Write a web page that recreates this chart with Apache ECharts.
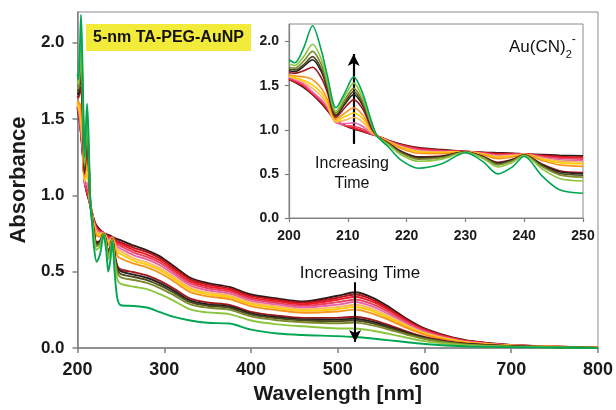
<!DOCTYPE html>
<html><head><meta charset="utf-8">
<script src="https://cdn.jsdelivr.net/npm/echarts@6/dist/echarts.min.js"></script>
<style>html,body{margin:0;padding:0;background:#fff}#c{width:616px;height:410px}</style>
</head><body><div id="c"></div>
<script>
// Wavelengths (nm): UV region (also the inset), and visible region (main only)
const wlUV  = [200, 201, 202.5, 204, 205.5, 206.5, 208, 209.5, 211, 212.5, 214, 215, 217, 219, 222, 226, 230, 233, 235.5, 238, 240, 243, 246, 250];
const wlVis = [265, 280, 295, 310, 330, 350, 375, 400, 430, 460, 500, 520, 540, 560, 580, 600, 625, 650, 700, 800];

// Absorbance per spectrum (s0 = earliest ... s13 = latest)
const uv0  = [1.57, 1.54, 1.48, 1.40, 1.30, 1.22, 1.10, 1.05, 1.01, 0.98, 0.95, 0.93, 0.88, 0.84, 0.80, 0.775, 0.755, 0.745, 0.74, 0.735, 0.727, 0.72, 0.712, 0.705];
const uv1  = [1.572, 1.545, 1.49, 1.405, 1.31, 1.23, 1.10, 1.05, 1.015, 0.985, 0.95, 0.93, 0.877, 0.834, 0.792, 0.769, 0.754, 0.741, 0.732, 0.730, 0.726, 0.712, 0.698, 0.69];
const uv2  = [1.578, 1.55, 1.50, 1.41, 1.32, 1.24, 1.10, 1.05, 1.02, 0.99, 0.95, 0.93, 0.875, 0.829, 0.786, 0.765, 0.754, 0.739, 0.726, 0.726, 0.725, 0.706, 0.688, 0.68];
const uv3  = [1.585, 1.56, 1.51, 1.42, 1.33, 1.25, 1.09, 1.05, 1.04, 1.01, 0.955, 0.93, 0.873, 0.824, 0.779, 0.761, 0.754, 0.736, 0.718, 0.721, 0.725, 0.698, 0.677, 0.667];
const uv4  = [1.595, 1.57, 1.52, 1.43, 1.34, 1.26, 1.08, 1.07, 1.08, 1.04, 0.96, 0.93, 0.870, 0.817, 0.769, 0.754, 0.753, 0.731, 0.709, 0.715, 0.723, 0.689, 0.661, 0.65];
const uv5  = [1.605, 1.58, 1.54, 1.47, 1.38, 1.28, 1.09, 1.11, 1.14, 1.09, 0.97, 0.93, 0.866, 0.809, 0.760, 0.748, 0.752, 0.727, 0.699, 0.709, 0.722, 0.679, 0.645, 0.633];
const uv6  = [1.61, 1.59, 1.56, 1.51, 1.42, 1.31, 1.10, 1.15, 1.19, 1.13, 0.99, 0.93, 0.863, 0.801, 0.749, 0.741, 0.752, 0.722, 0.688, 0.702, 0.721, 0.668, 0.628, 0.614];
const uv7  = [1.625, 1.61, 1.60, 1.57, 1.47, 1.35, 1.12, 1.19, 1.25, 1.17, 1.00, 0.93, 0.858, 0.790, 0.734, 0.730, 0.751, 0.716, 0.673, 0.692, 0.719, 0.653, 0.602, 0.586];
const uv8  = [1.65, 1.64, 1.67, 1.71, 1.59, 1.43, 1.14, 1.25, 1.34, 1.24, 1.02, 0.93, 0.844, 0.759, 0.694, 0.703, 0.748, 0.698, 0.632, 0.665, 0.715, 0.612, 0.536, 0.514];
const uv9  = [1.67, 1.66, 1.72, 1.795, 1.66, 1.47, 1.16, 1.29, 1.40, 1.28, 1.04, 0.93, 0.842, 0.754, 0.687, 0.698, 0.748, 0.695, 0.625, 0.661, 0.714, 0.605, 0.524, 0.501];
const uv10 = [1.69, 1.68, 1.74, 1.83, 1.69, 1.49, 1.17, 1.31, 1.435, 1.30, 1.05, 0.93, 0.838, 0.746, 0.678, 0.692, 0.747, 0.690, 0.615, 0.654, 0.713, 0.595, 0.508, 0.484];
const uv11 = [1.71, 1.70, 1.78, 1.89, 1.74, 1.52, 1.19, 1.34, 1.47, 1.33, 1.06, 0.93, 0.834, 0.737, 0.666, 0.684, 0.746, 0.685, 0.603, 0.647, 0.712, 0.583, 0.489, 0.463];
const uv12 = [1.75, 1.73, 1.83, 1.97, 1.80, 1.56, 1.21, 1.38, 1.53, 1.37, 1.08, 0.93, 0.826, 0.719, 0.643, 0.668, 0.745, 0.675, 0.579, 0.631, 0.709, 0.559, 0.449, 0.42];
const uv13 = [1.795, 1.76, 1.93, 2.18, 1.90, 1.62, 1.25, 1.42, 1.60, 1.42, 1.10, 0.93, 0.80, 0.66, 0.565, 0.615, 0.74, 0.64, 0.50, 0.58, 0.70, 0.48, 0.32, 0.28];

const vis0  = [0.67, 0.64, 0.60, 0.54, 0.46, 0.425, 0.40, 0.35, 0.325, 0.305, 0.342, 0.365, 0.33, 0.265, 0.19, 0.128, 0.08, 0.048, 0.02, 0.003];
const vis1  = [0.656, 0.627, 0.587, 0.528, 0.449, 0.415, 0.39, 0.341, 0.316, 0.296, 0.329, 0.35, 0.317, 0.254, 0.182, 0.123, 0.077, 0.046, 0.019, 0.003];
const vis2  = [0.64, 0.612, 0.573, 0.515, 0.436, 0.403, 0.38, 0.33, 0.305, 0.286, 0.316, 0.336, 0.303, 0.244, 0.175, 0.118, 0.074, 0.044, 0.019, 0.003];
const vis3  = [0.625, 0.597, 0.558, 0.501, 0.424, 0.391, 0.369, 0.32, 0.295, 0.276, 0.30, 0.318, 0.287, 0.231, 0.166, 0.112, 0.07, 0.042, 0.018, 0.003];
const vis4  = [0.607, 0.58, 0.542, 0.486, 0.41, 0.378, 0.357, 0.309, 0.284, 0.265, 0.284, 0.301, 0.271, 0.218, 0.157, 0.106, 0.066, 0.04, 0.017, 0.002];
const vis5  = [0.587, 0.561, 0.523, 0.47, 0.394, 0.364, 0.344, 0.296, 0.271, 0.253, 0.268, 0.283, 0.255, 0.205, 0.147, 0.099, 0.062, 0.037, 0.016, 0.002];
const vis6  = [0.571, 0.546, 0.509, 0.456, 0.382, 0.352, 0.333, 0.286, 0.261, 0.243, 0.255, 0.268, 0.242, 0.194, 0.14, 0.094, 0.059, 0.035, 0.015, 0.002];
const vis7  = [0.552, 0.528, 0.491, 0.44, 0.366, 0.338, 0.32, 0.273, 0.248, 0.231, 0.239, 0.251, 0.225, 0.181, 0.131, 0.088, 0.055, 0.033, 0.015, 0.002];
const vis8  = [0.496, 0.475, 0.439, 0.393, 0.323, 0.298, 0.282, 0.237, 0.212, 0.197, 0.198, 0.205, 0.184, 0.148, 0.107, 0.072, 0.045, 0.027, 0.012, 0.001];
const vis9  = [0.48, 0.46, 0.425, 0.379, 0.31, 0.286, 0.272, 0.227, 0.202, 0.187, 0.186, 0.192, 0.172, 0.138, 0.10, 0.068, 0.042, 0.026, 0.012, 0.001];
const vis10 = [0.465, 0.445, 0.41, 0.366, 0.30, 0.277, 0.263, 0.219, 0.194, 0.18, 0.176, 0.18, 0.161, 0.13, 0.094, 0.064, 0.04, 0.024, 0.011, 0.001];
const vis11 = [0.445, 0.426, 0.392, 0.349, 0.286, 0.264, 0.251, 0.207, 0.182, 0.169, 0.162, 0.166, 0.148, 0.119, 0.087, 0.059, 0.036, 0.022, 0.01, 0.001];
const vis12 = [0.401, 0.385, 0.352, 0.312, 0.253, 0.233, 0.222, 0.18, 0.155, 0.142, 0.128, 0.128, 0.113, 0.091, 0.067, 0.045, 0.028, 0.017, 0.009, 0.001];
const vis13 = [0.275, 0.265, 0.235, 0.205, 0.18, 0.165, 0.16, 0.12, 0.095, 0.085, 0.078, 0.072, 0.062, 0.05, 0.038, 0.026, 0.016, 0.01, 0.006, 0.0];

const colors = ['#2a1a18', '#b5121b', '#ee1c25', '#e8415f', '#e665a8', '#fdb863', '#ffcc00', '#f7941d',
                '#a1191c', '#231f20', '#4c4a1e', '#7d8b2f', '#8cc63f', '#00a651'];

const mainYTicks  = [0, 0.5, 1.0, 1.5, 2.0];
const insetYTicks = [0, 0.5, 1.0, 1.5, 2.0];

// arrows: [wavelength, from, to]
const mainArrow  = [520, 0.43, 0.04];
const insetArrow = [211, 0.84, 1.86];

const uvAll  = [uv0, uv1, uv2, uv3, uv4, uv5, uv6, uv7, uv8, uv9, uv10, uv11, uv12, uv13];
const visAll = [vis0, vis1, vis2, vis3, vis4, vis5, vis6, vis7, vis8, vis9, vis10, vis11, vis12, vis13];

const FONT = 'Liberation Sans, Arial, Helvetica, sans-serif';
const wlMain = wlUV.concat(wlVis);

const series = [];
uvAll.forEach((uv, i) => {
  const all = uv.concat(visAll[i]);
  series.push({
    type: 'line', xAxisIndex: 0, yAxisIndex: 0, showSymbol: false, smooth: 0.3,
    lineStyle: { width: 1.9, color: colors[i] }, z: 2,
    data: wlMain.map((w, k) => [w, all[k]])
  });
});
uvAll.forEach((uv, i) => {
  series.push({
    type: 'line', xAxisIndex: 1, yAxisIndex: 1, showSymbol: false, smooth: 0.3,
    lineStyle: { width: 1.6, color: colors[i] }, z: 5,
    data: wlUV.map((w, k) => [w, uv[k]])
  });
});
// arrows
series.push({
  type: 'line', xAxisIndex: 0, yAxisIndex: 0, data: [], z: 6,
  markLine: { silent: true, symbol: ['none', 'arrow'], symbolSize: [9, 12], label: { show: false },
    lineStyle: { color: '#000', width: 2, type: 'solid' },
    data: [[{ coord: [mainArrow[0], mainArrow[1]] }, { coord: [mainArrow[0], mainArrow[2]] }]] }
});
series.push({
  type: 'line', xAxisIndex: 1, yAxisIndex: 1, data: [], z: 7,
  markLine: { silent: true, symbol: ['none', 'arrow'], symbolSize: [9, 12], label: { show: false },
    lineStyle: { color: '#000', width: 2.2, type: 'solid' },
    data: [[{ coord: [insetArrow[0], insetArrow[1]] }, { coord: [insetArrow[0], insetArrow[2]] }]] }
});

const axisCol = '#7f7f7f';
const chart = echarts.init(document.getElementById('c'), null, { renderer: 'canvas' });
chart.setOption({
  animation: false,
  backgroundColor: '#fff',
  grid: [
    { left: 74, top: 12, right: 16, bottom: 62, show: true, borderColor: '#8a8a8a', borderWidth: 1, z: 0 },
    { left: 289, top: 24, right: 33, bottom: 192, show: true, borderColor: '#8a8a8a', borderWidth: 1, backgroundColor: '#fff', z: 4 }
  ],
  xAxis: [
    { type: 'value', gridIndex: 0, min: 200, max: 800, interval: 100,
      axisLine: { lineStyle: { color: axisCol, width: 1.5 } },
      axisTick: { show: true, length: 5, lineStyle: { color: axisCol, width: 1.5 } },
      axisLabel: { fontSize: 18, fontWeight: 'bold', color: '#1a1a1a', margin: 13, fontFamily: FONT },
      splitLine: { show: false },
      name: 'Wavelength [nm]', nameLocation: 'middle', nameGap: 31,
      nameTextStyle: { fontSize: 21, fontWeight: 'bold', color: '#1a1a1a', fontFamily: FONT } },
    { type: 'value', gridIndex: 1, min: 200, max: 250, interval: 10, z: 5,
      axisLine: { lineStyle: { color: axisCol, width: 1.2 } },
      axisTick: { show: true, length: 4, lineStyle: { color: axisCol, width: 1.2 } },
      axisLabel: { fontSize: 14, fontWeight: 'bold', color: '#1a1a1a', margin: 11, fontFamily: FONT },
      splitLine: { show: false } }
  ],
  yAxis: [
    { type: 'value', gridIndex: 0, min: 0, max: 2.2, interval: 0.5,
      axisLine: { show: true, lineStyle: { color: axisCol, width: 1.5 } },
      axisTick: { show: true, length: 5, customValues: mainYTicks, lineStyle: { color: axisCol, width: 1.5 } },
      axisLabel: { fontSize: 17, fontWeight: 'bold', color: '#1a1a1a', margin: 13, fontFamily: FONT,
        customValues: mainYTicks, formatter: v => v.toFixed(1) },
      splitLine: { show: false },
      name: 'Absorbance', nameLocation: 'middle', nameGap: 42,
      nameTextStyle: { fontSize: 22, fontWeight: 'bold', color: '#1a1a1a', fontFamily: FONT } },
    { type: 'value', gridIndex: 1, min: 0, max: 2.2, interval: 0.5, z: 5,
      axisLine: { show: true, lineStyle: { color: axisCol, width: 1.2 } },
      axisTick: { show: true, length: 4, customValues: insetYTicks, lineStyle: { color: axisCol, width: 1.2 } },
      axisLabel: { fontSize: 14, fontWeight: 'bold', color: '#1a1a1a', margin: 10, fontFamily: FONT,
        customValues: insetYTicks, formatter: v => v.toFixed(1) },
      splitLine: { show: false } }
  ],
  graphic: [
    { type: 'rect', left: 86, top: 24, shape: { width: 165, height: 27 }, style: { fill: '#f3eb3a' }, z: 10 },
    { type: 'text', x: 168.5, y: 37.5, z: 11,
      style: { text: '5-nm TA-PEG-AuNP', fill: '#111', font: 'bold 16px ' + FONT, textAlign: 'center', textVerticalAlign: 'middle' } },
    { type: 'text', x: 509, y: 47, z: 11,
      style: { text: '{a|Au(CN)}{s|2}{p|-}', textVerticalAlign: 'middle',
        rich: { a: { fontSize: 17, fontFamily: FONT, fill: '#111', lineHeight: 26 },
                s: { fontSize: 11, fontFamily: FONT, fill: '#111', verticalAlign: 'bottom', lineHeight: 26 },
                p: { fontSize: 12, fontFamily: FONT, fill: '#111', verticalAlign: 'top', lineHeight: 26 } } } },
    { type: 'text', x: 352, y: 173.5, z: 11,
      style: { text: 'Increasing\nTime', fill: '#111', font: '16px ' + FONT, textAlign: 'center', textVerticalAlign: 'middle', lineHeight: 20 } },
    { type: 'text', x: 360, y: 273, z: 11,
      style: { text: 'Increasing Time', fill: '#111', font: '17px ' + FONT, textAlign: 'center', textVerticalAlign: 'middle' } }
  ],
  series: series
});
</script>
</body></html>
